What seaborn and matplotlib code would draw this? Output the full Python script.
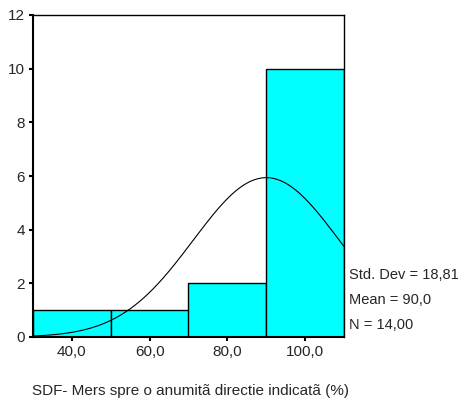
import numpy as np
import matplotlib
matplotlib.use("Agg")
import matplotlib.pyplot as plt
import seaborn as sns

# histogram
bin_centers = [40, 60, 80, 100]
counts = [1, 1, 2, 10]
bin_edges = [30, 50, 70, 90, 110]
std_dev = 18.81
mean = 90.0
n = 14
xticks = [40, 60, 80, 100]
xticklabels = ["40,0", "60,0", "80,0", "100,0"]
yticks = [0, 2, 4, 6, 8, 10, 12]

sns.set_style("white")
plt.rcParams['font.family'] = ['Liberation Sans', 'DejaVu Sans']

fig = plt.figure(figsize=(4.64, 3.99), dpi=100)
ax = fig.add_axes([33 / 464, 62 / 399, 311 / 464, 322 / 399])

sns.histplot(x=bin_centers, weights=counts, bins=bin_edges, color="#00ffff",
             edgecolor="black", linewidth=1, alpha=1, ax=ax)

# fitted normal curve (SPSS style)
xs = np.linspace(30, 110, 200)
width = bin_edges[1] - bin_edges[0]
ys = n * width / (std_dev * np.sqrt(2 * np.pi)) * np.exp(-0.5 * ((xs - mean) / std_dev) ** 2)
sns.lineplot(x=xs, y=ys, color="black", linewidth=0.8, ax=ax)

ax.set_xlim(30, 110)
ax.set_ylim(0, 12)
ax.set_xticks(xticks)
ax.set_xticklabels(xticklabels)
ax.set_yticks(yticks)
ax.set_ylabel("")
ax.set_xlabel("SDF- Mers spre o anumitã directie indicatã (%)", fontsize=11)
ax.xaxis.set_label_coords(0.508, -0.145)
ax.tick_params(axis="both", direction="out", length=3, width=1.5, labelsize=11,
               bottom=True, left=True, pad=3, color="black")
for side in ["top", "right", "left", "bottom"]:
    ax.spines[side].set_color("black")
    ax.spines[side].set_linewidth(1)
ax.spines["left"].set_linewidth(1.5)
ax.spines["bottom"].set_linewidth(1.5)

stats = ["Std. Dev = 18,81", "Mean = 90,0", "N = 14,00"]
for i, s in enumerate(stats):
    ax.text(1.015, (399 - 275 - 62) / 322 - i * 25 / 322, s, transform=ax.transAxes,
            fontsize=10.5, va="center", ha="left")

plt.savefig("out.png", dpi=100)
